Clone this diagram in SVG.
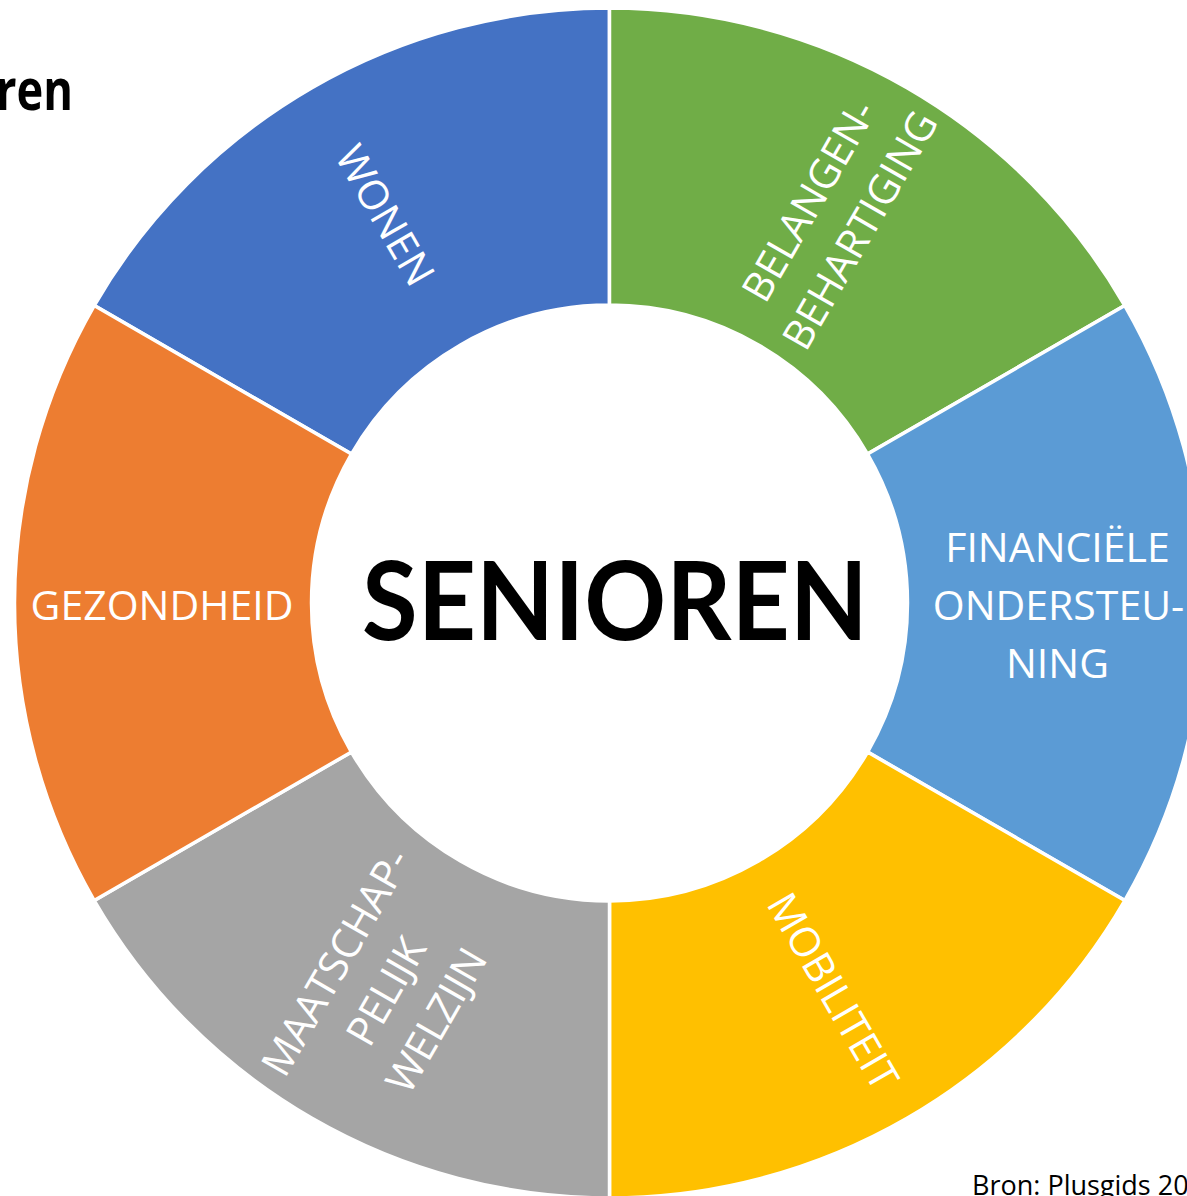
<svg xmlns="http://www.w3.org/2000/svg" width="1187" height="1196" viewBox="0 0 1187 1196">
<style>
.seg{stroke:#ffffff;stroke-width:3.5;stroke-linejoin:miter}
.lbl{font-family:"Open Sans","Liberation Sans",sans-serif;font-size:41px;fill:#ffffff;text-anchor:middle}
.ctr{font-family:"Lato","Open Sans","Liberation Sans",sans-serif;font-weight:bold;font-size:109px;fill:#000000;text-anchor:middle}
.ttl{font-family:"Open Sans","Liberation Sans",sans-serif;font-weight:bold;font-size:58px;fill:#000000}
.src{font-family:"Open Sans","Liberation Sans",sans-serif;font-size:27px;fill:#000000}
</style>
<rect x="0" y="0" width="1187" height="1196" fill="#ffffff"/>
<text class="ttl" x="-4" y="110" textLength="77" lengthAdjust="spacingAndGlyphs">ren</text>
<g id="connectors"></g>
<g id="wonen">
<path class="seg" fill="#4472C4" d="M94.21,305.5 A595,595 0 0 1 609.5,8 L609.5,305 A298,298 0 0 0 351.43,454 Z"/>
<text class="lbl" transform="translate(385.5,215) rotate(60)" x="0" y="15">WONEN</text>
</g>
<g id="belangenbehartiging">
<path class="seg" fill="#70AD47" d="M609.5,8 A595,595 0 0 1 1124.79,305.5 L867.57,454 A298,298 0 0 0 609.5,305 Z"/>
<text class="lbl" transform="translate(833.5,215) rotate(-60)"><tspan x="0" y="-14">BELANGEN-</tspan><tspan x="0" y="45">BEHARTIGING</tspan></text>
</g>
<g id="financiele">
<path class="seg" fill="#5B9BD5" d="M1124.79,305.5 A595,595 0 0 1 1124.79,900.5 L867.57,752 A298,298 0 0 0 867.57,454 Z"/>
<text class="lbl"><tspan x="1057.5" y="562">FINANCIËLE</tspan><tspan x="1058.5" y="620">ONDERSTEU-</tspan><tspan x="1057.5" y="678">NING</tspan></text>
</g>
<g id="mobiliteit">
<path class="seg" fill="#FFC000" d="M1124.79,900.5 A595,595 0 0 1 609.5,1198 L609.5,901 A298,298 0 0 0 867.57,752 Z"/>
<text class="lbl" transform="translate(833.5,991) rotate(60)" x="0" y="15">MOBILITEIT</text>
</g>
<g id="welzijn">
<path class="seg" fill="#A5A5A5" d="M609.5,1198 A595,595 0 0 1 94.21,900.5 L351.43,752 A298,298 0 0 0 609.5,901 Z"/>
<text class="lbl" transform="translate(385.5,991) rotate(-60)"><tspan x="0" y="-43">MAATSCHAP-</tspan><tspan x="0" y="15">PELIJK</tspan><tspan x="0" y="73">WELZIJN</tspan></text>
</g>
<g id="gezondheid">
<path class="seg" fill="#ED7D31" d="M94.21,900.5 A595,595 0 0 1 94.21,305.5 L351.43,454 A298,298 0 0 0 351.43,752 Z"/>
<text class="lbl" x="162" y="620">GEZONDHEID</text>
</g>
<g id="senioren">
<text class="ctr" x="615" y="640" textLength="506" lengthAdjust="spacingAndGlyphs">SENIOREN</text>
</g>
<text class="src" x="972" y="1195">Bron: Plusgids 20</text>
</svg>
